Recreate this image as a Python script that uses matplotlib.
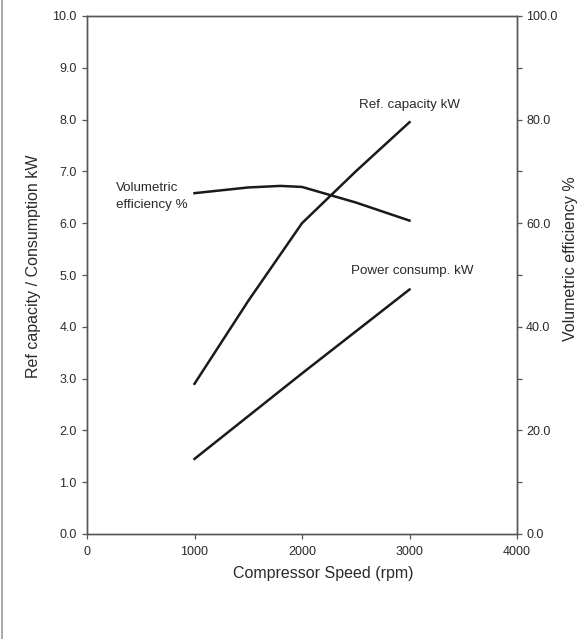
import matplotlib
matplotlib.use('Agg')
import matplotlib.pyplot as plt
from matplotlib.lines import Line2D

plt.rcParams['font.family'] = ['Liberation Sans', 'DejaVu Sans']

# compressor speed (rpm)
speed = [1000, 1500, 1800, 2000, 2500, 3000]
# refrigerating capacity kW
ref_capacity = [2.9, 4.5, 5.4, 6.0, 7.0, 7.95]
# power consumption kW
power_speed = [1000, 2000, 3000]
power_consump = [1.45, 3.1, 4.72]
# volumetric efficiency %
vol_eff = [65.8, 66.9, 67.2, 67.0, 64.0, 60.5]

x_ticks = [0, 1000, 2000, 3000, 4000]
left_ticks = [0, 1, 2, 3, 4, 5, 6, 7, 8, 9, 10]
right_ticks = [0, 20, 40, 60, 80, 100]
right_minor = [10, 30, 50, 70, 90]

line_col = '#1a1a1a'
axis_col = '#555555'
text_col = '#2a2a2a'

fig = plt.figure(figsize=(5.82, 6.39), dpi=100)
ax = fig.add_axes([87/582, 1 - 534/639, 430/582, 518/639])
ax2 = ax.twinx()

ax.plot(speed, ref_capacity, color=line_col, lw=1.8)
ax.plot(power_speed, power_consump, color=line_col, lw=1.8)
ax2.plot(speed, vol_eff, color=line_col, lw=1.8)

ax.set_xlim(0, 4000)
ax.set_ylim(0, 10)
ax2.set_ylim(0, 100)

ax.set_xticks(x_ticks)
ax.set_xticklabels([str(v) for v in x_ticks])
ax.set_yticks(left_ticks)
ax.set_yticklabels(['%.1f' % v for v in left_ticks])
ax2.set_yticks(right_ticks)
ax2.set_yticklabels(['%.1f' % v for v in right_ticks])
ax2.set_yticks(right_minor, minor=True)

for a in (ax, ax2):
    for s in a.spines.values():
        s.set_color(axis_col)
        s.set_linewidth(1.0)
    a.tick_params(which='both', direction='out', length=3.5, width=0.9,
                  color=axis_col, labelsize=9, labelcolor=text_col, pad=4)
ax.tick_params(axis='x', pad=5)
ax2.tick_params(axis='y', pad=3)

ax.set_xlabel('Compressor Speed (rpm)', fontsize=11.5, color=text_col)
ax.xaxis.set_label_coords(0.549, -0.062)
ax.set_ylabel('Ref capacity / Consumption kW', fontsize=11.5, color=text_col)
ax.yaxis.set_label_coords(-0.106, 0.516)
ax2.set_ylabel('Volumetric efficiency %', fontsize=11.5, color=text_col)
ax2.yaxis.set_label_coords(1.108, 0.531)

ax.text(3000, 8.28, 'Ref. capacity kW', fontsize=9.6, color=text_col,
        ha='center', va='center')
ax.text(3030, 5.07, 'Power consump. kW', fontsize=9.6, color=text_col,
        ha='center', va='center')
ax.text(270, 6.52, 'Volumetric\nefficiency %', fontsize=9.6, color=text_col,
        ha='left', va='center', linespacing=1.5)

# grey frame line at the left edge of the picture
fig.add_artist(Line2D([0.003, 0.003], [0, 1], transform=fig.transFigure,
                      color='#999999', lw=1.2))

fig.savefig('out.png', dpi=100)
